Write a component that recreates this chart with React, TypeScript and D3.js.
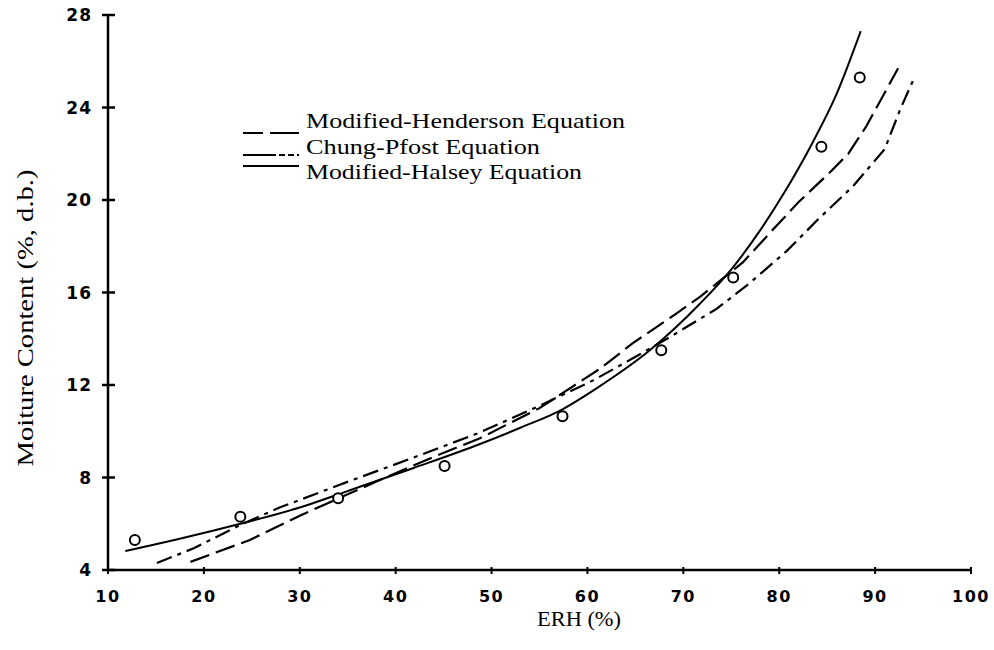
import React, { useEffect, useRef } from 'react';
import * as d3 from 'd3';

// ERH (%) vs moisture content (%, d.b.)
const xTicks = [10, 20, 30, 40, 50, 60, 70, 80, 90, 100];
const yTicks = [4, 8, 12, 16, 20, 24, 28];

const observed: [number, number][] = [
    [12.8, 5.3], [23.8, 6.3], [34.0, 7.1], [45.1, 8.5], [57.4, 10.65],
    [67.7, 13.5], [75.2, 16.65], [84.4, 22.3], [88.4, 25.3]
];

const henderson: [number, number][] = [
    [18.6, 4.35], [24.8, 5.3], [30, 6.35], [38.4, 7.9], [44, 8.9], [48.8, 9.7],
    [55, 11.0], [61.3, 12.7], [64.7, 13.8], [69.3, 15.1], [71.7, 15.8], [76.2, 17.3],
    [79.3, 18.7], [82, 19.9], [85.3, 21.2], [87.2, 22.0], [89.1, 23.2], [92.4, 25.7]
];

const chungPfost: [number, number][] = [
    [15.1, 4.3], [19, 4.95], [23.8, 5.95], [27.9, 6.7], [34.9, 7.8], [41.8, 8.85],
    [48.8, 9.95], [55, 11.1], [60.6, 12.2], [64.5, 13.1], [68.3, 14.0], [73.5, 15.3],
    [76.9, 16.4], [80.8, 17.8], [83.9, 19.1], [87.7, 20.6], [91.0, 22.2], [92.6, 23.9],
    [94.1, 25.3]
];

const halsey: [number, number][] = [
    [11.8, 4.82], [17.8, 5.38], [23.8, 6.0], [30, 6.7], [34.9, 7.4], [41.8, 8.4],
    [48.8, 9.45], [53, 10.15], [57.4, 10.95], [61.3, 11.95], [66.5, 13.5], [71.7, 15.5],
    [75.2, 17.1], [77.7, 18.5], [80.5, 20.3], [83.5, 22.5], [86, 24.6], [88.5, 27.3]
];

const legendItems = [
    { label: 'Modified-Henderson Equation', dash: '20,7,30', len: 319 },
    { label: 'Chung-Pfost Equation', dash: '33,3,6,3,6,3', len: 234 },
    { label: 'Modified-Halsey Equation', dash: null, len: 276 }
];

const serif = '"Liberation Serif", "DejaVu Serif", serif';
const tickFont = '"DejaVu Sans", sans-serif';

export default function App() {
    const ref = useRef<SVGSVGElement>(null);

    useEffect(() => {
        const svg = d3.select(ref.current);
        svg.selectAll('*').remove();

        const x = d3.scaleLinear().domain([10, 100]).range([108, 971]);
        const y = d3.scaleLinear().domain([4, 28]).range([570, 15]);

        const g = svg.append('g');

        // axes
        g.append('line')
            .attr('x1', x(10)).attr('x2', x(100))
            .attr('y1', y(4)).attr('y2', y(4))
            .attr('stroke', '#000').attr('stroke-width', 2.5);
        g.append('line')
            .attr('x1', x(10)).attr('x2', x(10))
            .attr('y1', y(4)).attr('y2', y(28))
            .attr('stroke', '#000').attr('stroke-width', 2.5);

        g.selectAll('.xt').data(xTicks).enter().append('line')
            .attr('x1', d => x(d)).attr('x2', d => x(d))
            .attr('y1', y(4) - 3).attr('y2', y(4) + 4)
            .attr('stroke', '#000').attr('stroke-width', 2);
        g.selectAll('.yt').data(yTicks).enter().append('line')
            .attr('x1', x(10) - 6).attr('x2', x(10) + 7)
            .attr('y1', d => y(d)).attr('y2', d => y(d))
            .attr('stroke', '#000').attr('stroke-width', 2.5);

        g.selectAll('.xl').data(xTicks).enter().append('text')
            .attr('x', d => x(d)).attr('y', y(4) + 32)
            .attr('text-anchor', 'middle')
            .style('font-family', tickFont).style('font-weight', 'bold').style('font-size', '16px')
            .style('letter-spacing', '1.5px')
            .text(d => d);
        g.selectAll('.yl').data(yTicks).enter().append('text')
            .attr('x', x(10) - 16).attr('y', d => y(d) + 6)
            .attr('text-anchor', 'end')
            .style('font-family', tickFont).style('font-weight', 'bold').style('font-size', '17px')
            .style('letter-spacing', '1px')
            .text(d => d);

        // axis titles
        g.append('text')
            .attr('x', 579).attr('y', 626)
            .attr('text-anchor', 'middle')
            .attr('textLength', 84).attr('lengthAdjust', 'spacingAndGlyphs')
            .style('font-family', serif).style('font-size', '22px')
            .text('ERH (%)');
        g.append('text')
            .attr('transform', `translate(33,${318}) rotate(-90)`)
            .attr('text-anchor', 'middle')
            .attr('textLength', 297).attr('lengthAdjust', 'spacingAndGlyphs')
            .style('font-family', serif).style('font-size', '24px')
            .text('Moiture Content (%, d.b.)');

        const line = d3.line<[number, number]>()
            .x(d => x(d[0]))
            .y(d => y(d[1]));

        g.append('path').datum(henderson)
            .attr('d', line.curve(d3.curveLinear))
            .attr('fill', 'none').attr('stroke', '#000').attr('stroke-width', 2.2)
            .attr('stroke-dasharray', '20,7');
        g.append('path').datum(chungPfost)
            .attr('d', line.curve(d3.curveLinear))
            .attr('fill', 'none').attr('stroke', '#000').attr('stroke-width', 2.2)
            .attr('stroke-dasharray', '16,6,4,6');
        g.append('path').datum(halsey)
            .attr('d', line.curve(d3.curveMonotoneX))
            .attr('fill', 'none').attr('stroke', '#000').attr('stroke-width', 2);

        g.selectAll('.pt').data(observed).enter().append('circle')
            .attr('cx', d => x(d[0])).attr('cy', d => y(d[1]))
            .attr('r', 5)
            .attr('fill', '#fff').attr('stroke', '#000').attr('stroke-width', 2);

        // legend
        const sampleY = [133, 155, 166];
        const lg = g.append('g');
        legendItems.forEach((item, i) => {
            lg.append('line')
                .attr('x1', 243).attr('x2', 299)
                .attr('y1', sampleY[i]).attr('y2', sampleY[i])
                .attr('stroke', '#000').attr('stroke-width', 2)
                .attr('stroke-dasharray', item.dash ? item.dash : null);
            lg.append('text')
                .attr('x', 306).attr('y', 128 + i * 25.5)
                .attr('textLength', item.len).attr('lengthAdjust', 'spacingAndGlyphs')
                .style('font-family', serif).style('font-size', '21px')
                .text(item.label);
        });
    }, []);

    return (
        <svg ref={ref} width={994} height={650}
            style={{ position: 'absolute', left: 0, top: 0, background: '#fff' }} />
    );
}
